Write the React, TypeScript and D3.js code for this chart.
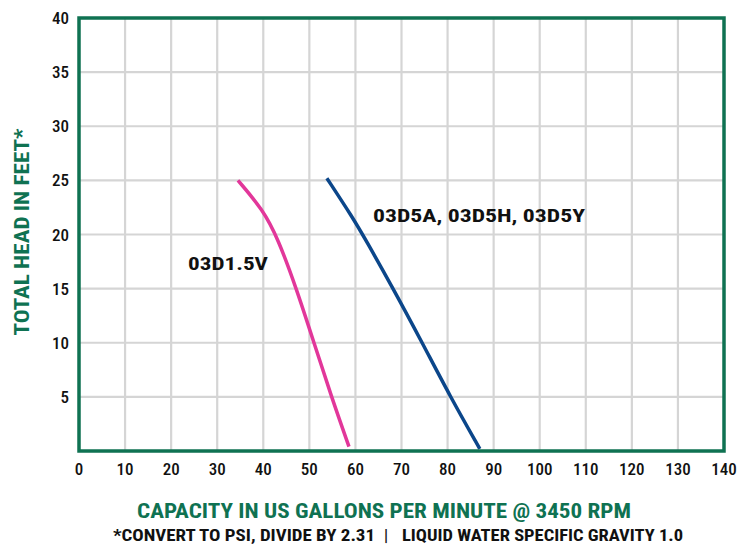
import * as d3 from "d3";

const xTicks = [0, 10, 20, 30, 40, 50, 60, 70, 80, 90, 100, 110, 120, 130, 140];
const yTicks = [5, 10, 15, 20, 25, 30, 35, 40];

// flow (gpm), head (ft)
const curve15V = [
  { q: 34.5, h: 25 },
  { q: 39.9, h: 22.3 },
  { q: 43.2, h: 19.6 },
  { q: 47.2, h: 15 },
  { q: 51.0, h: 10 },
  { q: 54.8, h: 5 },
  { q: 58.6, h: 0.4 },
];
const curve5 = [
  { q: 53.8, h: 25.2 },
  { q: 59.5, h: 21.5 },
  { q: 62.1, h: 19.6 },
  { q: 68.2, h: 15 },
  { q: 74.5, h: 10 },
  { q: 80.6, h: 5 },
  { q: 87.0, h: 0.2 },
];

const green = "#0f7252";
const font = "'Liberation Sans Narrow', 'Roboto Condensed', Roboto, sans-serif";

export default function App() {
  const width = 745;
  const height = 546;
  const left = 79, right = 724, top = 18, bottom = 451;

  const x = d3.scaleLinear().domain([0, 140]).range([left, right]);
  const y = d3.scaleLinear().domain([0, 40]).range([bottom, top]);

  const line = d3.line<{ q: number; h: number }>()
    .x((d) => x(d.q))
    .y((d) => y(d.h))
    .curve(d3.curveBasis);

  const withEnds = (pts: { q: number; h: number }[]) => [pts[0], ...pts, pts[pts.length - 1]];

  return (
    <svg width={width} height={height} style={{ position: "absolute", left: 0, top: 0 }}>
      <rect width={width} height={height} fill="#fff" />
      {/* grid */}
      {xTicks.slice(1, -1).map((t) => (
        <line key={"gx" + t} x1={x(t)} x2={x(t)} y1={top} y2={bottom} stroke="#d5d5d5" strokeWidth={2.2} />
      ))}
      {yTicks.slice(0, -1).map((t) => (
        <line key={"gy" + t} x1={left} x2={right} y1={y(t)} y2={y(t)} stroke="#d5d5d5" strokeWidth={2.2} />
      ))}
      {/* curves */}
      <path d={line(withEnds(curve15V)) || ""} fill="none" stroke="#e2379a" strokeWidth={3.5} />
      <path d={line(withEnds(curve5)) || ""} fill="none" stroke="#0b468a" strokeWidth={3.5} />
      {/* frame */}
      <rect x={left} y={top} width={right - left} height={bottom - top} fill="none" stroke={green} strokeWidth={3.5} />
      {/* tick labels */}
      {yTicks.map((t) => (
        <text key={"ly" + t} x={69} y={y(t)} dy="0.36em" textAnchor="end" fontFamily={font} fontWeight={500} fontSize={17} fill="#111">
          {t}
        </text>
      ))}
      {xTicks.map((t) => (
        <text key={"lx" + t} x={x(t)} y={469} dy="0.36em" textAnchor="middle" fontFamily={font} fontWeight={500} fontSize={17} fill="#111">
          {t}
        </text>
      ))}
      {/* series labels */}
      <text x={188} y={270} fontFamily={font} fontWeight="bold" fontSize={18} fill="#111" textLength={80} lengthAdjust="spacingAndGlyphs">
        03D1.5V
      </text>
      <text x={373} y={222} fontFamily={font} fontWeight="bold" fontSize={18} fill="#111" textLength={212} lengthAdjust="spacingAndGlyphs">
        03D5A, 03D5H, 03D5Y
      </text>
      {/* axis titles */}
      <text transform="translate(29,232) rotate(-90)" textAnchor="middle" fontFamily={font} fontWeight="bold" fontSize={20} fill={green} textLength={207} lengthAdjust="spacingAndGlyphs">
        TOTAL HEAD IN FEET*
      </text>
      <text x={384} y={518} textAnchor="middle" fontFamily={font} fontWeight="bold" fontSize={20} fill={green} textLength={494} lengthAdjust="spacingAndGlyphs">
        CAPACITY IN US GALLONS PER MINUTE @ 3450 RPM
      </text>
      <g fontFamily={font} fontWeight="bold" fontSize={16} fill="#111">
        <text x={113} y={541} textLength={262} lengthAdjust="spacingAndGlyphs">
          *CONVERT TO PSI, DIVIDE BY 2.31
        </text>
        <text x={386} y={541} textAnchor="middle">|</text>
        <text x={402} y={541} textLength={281} lengthAdjust="spacingAndGlyphs">
          LIQUID WATER SPECIFIC GRAVITY 1.0
        </text>
      </g>
    </svg>
  );
}
